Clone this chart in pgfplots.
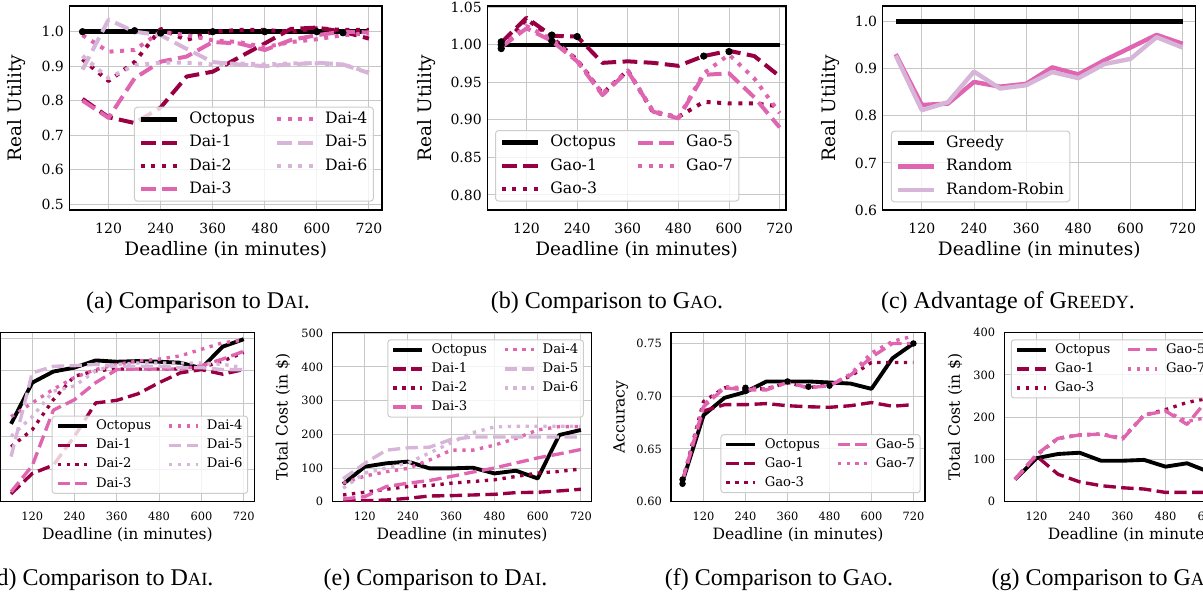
\documentclass[border=0pt]{standalone}
\usepackage{fontspec}
\setmainfont{DejaVu Serif}
\newfontfamily\capfont{Liberation Serif}
\usepackage{pgfplots}
\usepackage{pgfplotstable}
\pgfplotsset{compat=1.18}

\definecolor{c1}{HTML}{980043}
\definecolor{c2}{HTML}{DF65B0}
\definecolor{c3}{HTML}{D7B5D8}

% line styles, argument = scale factor of the row
\tikzset{
  oct/.style={black, line width=#1*2.3bp, solid, line join=round},
  oct/.default=1,
  sA/.style={c1, line width=#1*2bp, dash pattern=on #1*7.4bp off #1*3.2bp, line join=round},
  sA/.default=1,
  sB/.style={c1, line width=#1*2bp, dash pattern=on #1*2bp off #1*3.3bp, line join=round},
  sB/.default=1,
  sC/.style={c2, line width=#1*2bp, dash pattern=on #1*7.4bp off #1*3.2bp, line join=round},
  sC/.default=1,
  sD/.style={c2, line width=#1*2bp, dash pattern=on #1*2bp off #1*3.3bp, line join=round},
  sD/.default=1,
  sE/.style={c3, line width=#1*2bp, dash pattern=on #1*7.4bp off #1*3.2bp, line join=round},
  sE/.default=1,
  sF/.style={c3, line width=#1*2bp, dash pattern=on #1*2bp off #1*3.3bp, line join=round},
  sF/.default=1,
  sR/.style={c2, line width=#1*2.2bp, solid, line join=round},
  sR/.default=1,
  sRR/.style={c3, line width=#1*2.2bp, solid, line join=round},
  sRR/.default=1,
}

\pgfplotsset{
  dots/.style={only marks, mark=*, mark size=1.6bp, black, forget plot},
  base/.style={
    scale only axis, anchor=north west,
    xmin=27, xmax=753, xtick={120,240,360,480,600,720},
    grid=major, major grid style={line width=0.5bp, black!22},
    axis line style={line width=0.65bp},
    major tick length=0pt, scaled ticks=false,
    /pgf/number format/assume math mode=true,
    legend cell align=left,
    legend style={draw=black!20, line width=0.5bp, rounded corners=1.5bp,
      fill=white, fill opacity=0.8, draw opacity=1, text opacity=1},
    ylabel style={anchor=center},
  },
  toprow/.style={base, height=102bp,
    tick label style={font=\fontsize{7bp}{8bp}\selectfont},
    label style={font=\fontsize{9.25bp}{11bp}\selectfont},
    xticklabel style={anchor=base, yshift=-11.95bp, inner sep=0pt},
    yticklabel style={anchor=east, xshift=-2.6bp, inner sep=0pt},
    xlabel style={at={(axis description cs:0.5,-0.196)}, anchor=center},
    legend style={font=\fontsize{7.85bp}{9bp}\selectfont,
      inner xsep=2bp, inner ysep=2bp, row sep=3.65bp,
      nodes={inner xsep=1bp, inner ysep=0pt, text height=6.2bp, text depth=1.8bp},
      /tikz/every odd column/.append style={column sep=3.8bp},
      /tikz/every even column/.append style={column sep=9bp}},
    legend image code/.code={\draw[##1] (0bp,0bp) -- (18.3bp,0bp);},
  },
  botrow/.style={base, height=84.6bp,
    tick label style={font=\fontsize{5.7bp}{6.5bp}\selectfont},
    label style={font=\fontsize{7.8bp}{9bp}\selectfont},
    xticklabel style={anchor=base, yshift=-9.3bp, inner sep=0pt},
    yticklabel style={anchor=east, xshift=-4.4bp, inner sep=0pt},
    xlabel style={at={(axis description cs:0.5,-0.197)}, anchor=center},
    legend style={font=\fontsize{6.6bp}{7.5bp}\selectfont,
      inner xsep=1.8bp, inner ysep=1.7bp, row sep=2.95bp,
      nodes={inner xsep=0.8bp, inner ysep=0pt, text height=5.1bp, text depth=1.5bp},
      /tikz/every odd column/.append style={column sep=2.9bp},
      /tikz/every even column/.append style={column sep=7.2bp}},
    legend image code/.code={\draw[##1] (0bp,0bp) -- (14.5bp,0bp);},
  },
}

% (a) real utility vs Dai
\pgfplotstableread{
x   oct  d1    d2    d3    d4    d5    d6
60  1.0  0.805 0.920 0.800 0.990 0.890 0.930
120 1.0  0.752 0.857 0.750 0.942 1.035 0.865
180 1.0  0.735 0.912 0.865 0.947 1.000 0.903
240 1.0  0.780 1.008 0.913 1.000 0.990 0.910
300 1.0  0.870 0.976 0.928 0.990 0.950 0.910
360 1.0  0.884 1.000 0.970 0.975 0.912 0.905
420 1.0  0.925 1.005 0.966 0.970 0.905 0.908
480 1.0  0.966 1.005 0.947 0.955 0.900 0.905
540 1.0  1.008 1.000 0.976 0.970 0.905 0.908
600 1.0  1.012 1.010 0.990 0.978 0.910 0.908
660 1.0  1.000 1.005 1.000 0.990 0.905 0.905
720 1.0  0.980 1.005 0.998 0.995 0.880 0.882
}\ta

% (b) real utility vs Gao
\pgfplotstableread{
x   oct  g1    g3    g5    g7
60  1.0  1.003 0.997 0.997 0.998
120 1.0  1.036 1.034 1.022 1.025
180 1.0  1.012 1.010 1.005 1.007
240 1.0  1.011 0.980 0.978 0.980
300 1.0  0.976 0.935 0.933 0.935
360 1.0  0.978 0.966 0.965 0.966
420 1.0  0.976 0.910 0.911 0.912
480 1.0  0.972 0.904 0.902 0.903
540 1.0  0.985 0.924 0.960 0.962
600 1.0  0.992 0.922 0.962 0.987
660 1.0  0.985 0.922 0.930 0.955
720 1.0  0.958 0.918 0.890 0.909
}\tb

% (c) greedy vs random
\pgfplotstableread{
x   gr   ra    rr
60  1.0  0.931 0.928
120 1.0  0.823 0.812
180 1.0  0.826 0.829
240 1.0  0.872 0.894
300 1.0  0.862 0.858
360 1.0  0.868 0.865
420 1.0  0.903 0.893
480 1.0  0.888 0.880
540 1.0  0.918 0.910
600 1.0  0.945 0.921
660 1.0  0.972 0.967
720 1.0  0.953 0.945
}\tc

% (d) accuracy vs Dai
\pgfplotstableread{
x   oct    d1    d2    d3    d4    d5    d6
60  0.619  0.512 0.584 0.515 0.630 0.569 0.600
120 0.682  0.543 0.610 0.555 0.651 0.697 0.630
180 0.699  0.556 0.656 0.640 0.672 0.707 0.669
240 0.705  0.600 0.692 0.656 0.690 0.708 0.677
300 0.716  0.651 0.700 0.682 0.702 0.710 0.700
360 0.714  0.655 0.703 0.702 0.710 0.707 0.710
420 0.715  0.665 0.703 0.703 0.715 0.707 0.712
480 0.714  0.682 0.703 0.703 0.718 0.707 0.712
540 0.7125 0.697 0.703 0.703 0.723 0.705 0.712
600 0.704  0.702 0.705 0.708 0.733 0.705 0.712
660 0.737  0.695 0.715 0.718 0.743 0.702 0.710
720 0.7485 0.702 0.728 0.730 0.747 0.702 0.705
}\td

% (e) total cost vs Dai
\pgfplotstableread{
x   oct d1 d2 d3  d4  d5  d6
60  52  2  20 8   55  68  40
120 104 3  28 15  76  114 85
180 114 5  37 45  89  153 100
240 119 10 45 55  99  160 115
300 99  17 48 63  124 162 145
360 99  18 55 75  153 185 175
420 101 20 60 88  153 192 205
480 84  22 65 100 168 192 222
540 92  27 75 115 188 192 224
600 69  28 85 130 213 192 224
660 198 32 90 142 223 192 224
720 213 37 97 155 223 192 224
}\te

% (f) accuracy vs Gao
\pgfplotstableread{
x   oct    g1     g3    g5    g7
60  0.619  0.620  0.620 0.620 0.621
120 0.682  0.686  0.695 0.690 0.692
180 0.6985 0.692  0.708 0.708 0.709
240 0.704  0.692  0.707 0.706 0.708
300 0.714  0.693  0.707 0.706 0.707
360 0.714  0.691  0.713 0.713 0.713
420 0.714  0.690  0.708 0.708 0.708
480 0.713  0.6895 0.711 0.710 0.710
540 0.712  0.691  0.719 0.720 0.721
600 0.707  0.694  0.732 0.737 0.741
660 0.736  0.6905 0.732 0.750 0.752
720 0.750  0.692  0.732 0.750 0.757
}\tf

% (g) total cost vs Gao
\pgfplotstableread{
x   oct g1  g3  g5  g7
60  53  53  53  53  53
120 103 108 110 112 110
180 113 65  150 150 150
240 116 47  158 158 158
300 97  38  160 160 160
360 97  33  150 148 150
420 99  30  205 205 205
480 83  22  218 215 215
540 91  22  235 183 190
600 71  22  245 245 200
660 198 22  250 250 230
720 213 22  250 260 240
}\tg

\begin{document}
\begin{tikzpicture}
\useasboundingbox (0,0) rectangle (601.5bp,-298.5bp);
\begin{scope}
\clip (0,0) rectangle (601.5bp,-298.5bp);

% ---------------- (a)
\begin{axis}[toprow, at={(34.75bp,-3bp)}, width=156.25bp,
  xmin=30, xmax=750,
  ymin=0.4826, ymax=1.0746, ytick={0.5,0.6,0.7,0.8,0.9,1.0},
  y tick label style={/pgf/number format/fixed, /pgf/number format/fixed zerofill, /pgf/number format/precision=1},
  xlabel={Deadline (in minutes)}, ylabel={Real Utility},
  ylabel style={at={(axis description cs:-0.169,0.5)}},
  legend columns=2, legend style={at={(0.974,0.041)}, anchor=south east}]
\addplot[oct, forget plot] table[x=x, y=oct] {\ta};
\addplot[sA, forget plot] table[x=x, y=d1] {\ta};
\addplot[sB, forget plot] table[x=x, y=d2] {\ta};
\addplot[sC, forget plot] table[x=x, y=d3] {\ta};
\addplot[sD, forget plot] table[x=x, y=d4] {\ta};
\addplot[sE, forget plot] table[x=x, y=d5] {\ta};
\addplot[sF, forget plot] table[x=x, y=d6] {\ta};
\addplot[dots] coordinates {(60,1.0) (180,1.003) (240,0.996) (360,1.0) (480,1.0) (600,1.0) (660,0.997)};
\addlegendimage{oct}\addlegendentry{Octopus}
\addlegendimage{sD}\addlegendentry{Dai-4}
\addlegendimage{sA}\addlegendentry{Dai-1}
\addlegendimage{sE}\addlegendentry{Dai-5}
\addlegendimage{sB}\addlegendentry{Dai-2}
\addlegendimage{sF}\addlegendentry{Dai-6}
\addlegendimage{sC}\addlegendentry{Dai-3}
\end{axis}

% ---------------- (b)
\begin{axis}[toprow, at={(243.65bp,-3bp)}, width=149.35bp,
  xmin=27, xmax=735,
  ymin=0.78, ymax=1.0517, ytick={0.80,0.85,0.90,0.95,1.00,1.05},
  y tick label style={/pgf/number format/fixed, /pgf/number format/fixed zerofill, /pgf/number format/precision=2},
  xlabel={Deadline (in minutes)}, ylabel={Real Utility},
  ylabel style={at={(axis description cs:-0.203,0.5)}},
  legend columns=2, legend style={at={(0.026,0.041)}, anchor=south west}]
\addplot[oct, forget plot] table[x=x, y=oct] {\tb};
\addplot[sA, forget plot] table[x=x, y=g1] {\tb};
\addplot[sB, forget plot] table[x=x, y=g3] {\tb};
\addplot[sC, forget plot] table[x=x, y=g5] {\tb};
\addplot[sD, forget plot] table[x=x, y=g7] {\tb};
\addplot[dots] coordinates {(60,1.004) (60,1.0) (60,0.995) (180,1.013) (180,1.005) (240,1.011) (540,0.985) (600,0.991)};
\addlegendimage{oct}\addlegendentry{Octopus}
\addlegendimage{sC}\addlegendentry{Gao-5}
\addlegendimage{sA}\addlegendentry{Gao-1}
\addlegendimage{sD}\addlegendentry{Gao-7}
\addlegendimage{sB}\addlegendentry{Gao-3}
\end{axis}

% ---------------- (c)
\begin{axis}[toprow, at={(441.35bp,-3bp)}, width=156.5bp,
  xmin=30, xmax=750,
  ymin=0.6, ymax=1.0333, ytick={0.6,0.7,0.8,0.9,1.0},
  y tick label style={/pgf/number format/fixed, /pgf/number format/fixed zerofill, /pgf/number format/precision=1},
  xlabel={Deadline (in minutes)}, ylabel={Real Utility},
  ylabel style={at={(axis description cs:-0.168,0.5)}},
  legend columns=1, legend style={at={(0.026,0.038)}, anchor=south west}]
\addplot[oct] table[x=x, y=gr] {\tc};
\addlegendentry{Greedy}
\addplot[sR] table[x=x, y=ra] {\tc};
\addlegendentry{Random}
\addplot[sRR] table[x=x, y=rr] {\tc};
\addlegendentry{Random-Robin}
\end{axis}

% ---------------- (d)  (its y tick labels lie left of the picture)
\begin{axis}[botrow, at={(0.25bp,-166.25bp)}, width=126.9bp,
  xmin=30, xmax=750,
  ymin=0.5, ymax=0.7587, ytick={0.50,0.55,0.60,0.65,0.70,0.75},
  yticklabels={},
  xlabel={Deadline (in minutes)},
  legend columns=2, legend style={at={(0.976,0.046)}, anchor=south east}]
\addplot[oct=0.84, forget plot] table[x=x, y=oct] {\td};
\addplot[sA=0.84, forget plot] table[x=x, y=d1] {\td};
\addplot[sB=0.84, forget plot] table[x=x, y=d2] {\td};
\addplot[sC=0.84, forget plot] table[x=x, y=d3] {\td};
\addplot[sD=0.84, forget plot] table[x=x, y=d4] {\td};
\addplot[sE=0.84, forget plot] table[x=x, y=d5] {\td};
\addplot[sF=0.84, forget plot] table[x=x, y=d6] {\td};
\addlegendimage{oct=0.84}\addlegendentry{Octopus}
\addlegendimage{sD=0.84}\addlegendentry{Dai-4}
\addlegendimage{sA=0.84}\addlegendentry{Dai-1}
\addlegendimage{sE=0.84}\addlegendentry{Dai-5}
\addlegendimage{sB=0.84}\addlegendentry{Dai-2}
\addlegendimage{sF=0.84}\addlegendentry{Dai-6}
\addlegendimage{sC=0.84}\addlegendentry{Dai-3}
\end{axis}

% ---------------- (e)
\begin{axis}[botrow, at={(166.15bp,-166.25bp)}, width=129.7bp,
  xmin=30, xmax=750,
  ymin=0, ymax=502.4, ytick={0,100,200,300,400,500},
  xlabel={Deadline (in minutes)}, ylabel={Total Cost (in \$)},
  ylabel style={at={(axis description cs:-0.190,0.5)}},
  legend columns=2, legend style={at={(0.970,0.960)}, anchor=north east}]
\addplot[oct=0.84, forget plot] table[x=x, y=oct] {\te};
\addplot[sA=0.84, forget plot] table[x=x, y=d1] {\te};
\addplot[sB=0.84, forget plot] table[x=x, y=d2] {\te};
\addplot[sC=0.84, forget plot] table[x=x, y=d3] {\te};
\addplot[sD=0.84, forget plot] table[x=x, y=d4] {\te};
\addplot[sE=0.84, forget plot] table[x=x, y=d5] {\te};
\addplot[sF=0.84, forget plot] table[x=x, y=d6] {\te};
\addlegendimage{oct=0.84}\addlegendentry{Octopus}
\addlegendimage{sD=0.84}\addlegendentry{Dai-4}
\addlegendimage{sA=0.84}\addlegendentry{Dai-1}
\addlegendimage{sE=0.84}\addlegendentry{Dai-5}
\addlegendimage{sB=0.84}\addlegendentry{Dai-2}
\addlegendimage{sF=0.84}\addlegendentry{Dai-6}
\addlegendimage{sC=0.84}\addlegendentry{Dai-3}
\end{axis}

% ---------------- (f)
\begin{axis}[botrow, at={(335.5bp,-166.25bp)}, width=127bp,
  xmin=27, xmax=753,
  ymin=0.6, ymax=0.7604, ytick={0.60,0.65,0.70,0.75},
  y tick label style={/pgf/number format/fixed, /pgf/number format/fixed zerofill, /pgf/number format/precision=2},
  xlabel={Deadline (in minutes)}, ylabel={Accuracy},
  ylabel style={at={(axis description cs:-0.198,0.5)}},
  legend columns=2, legend style={at={(0.983,0.05)}, anchor=south east}]
\addplot[oct=0.84, forget plot] table[x=x, y=oct] {\tf};
\addplot[sA=0.84, forget plot] table[x=x, y=g1] {\tf};
\addplot[sB=0.84, forget plot] table[x=x, y=g3] {\tf};
\addplot[sC=0.84, forget plot] table[x=x, y=g5] {\tf};
\addplot[sD=0.84, forget plot] table[x=x, y=g7] {\tf};
\addplot[dots, mark size=1.4bp] coordinates {(60,0.617) (60,0.621) (240,0.705) (240,0.708) (360,0.714) (420,0.709) (480,0.710) (720,0.750)};
\addlegendimage{oct=0.84}\addlegendentry{Octopus}
\addlegendimage{sC=0.84}\addlegendentry{Gao-5}
\addlegendimage{sA=0.84}\addlegendentry{Gao-1}
\addlegendimage{sD=0.84}\addlegendentry{Gao-7}
\addlegendimage{sB=0.84}\addlegendentry{Gao-3}
\end{axis}

% ---------------- (g)
\begin{axis}[botrow, at={(502.15bp,-166.25bp)}, width=129bp,
  xmin=30, xmax=750,
  ymin=0, ymax=400.6, ytick={0,100,200,300,400},
  xlabel={Deadline (in minutes)}, ylabel={Total Cost (in \$)},
  ylabel style={at={(axis description cs:-0.191,0.5)}},
  legend columns=2, legend style={at={(0.025,0.960)}, anchor=north west}]
\addplot[oct=0.84, forget plot] table[x=x, y=oct] {\tg};
\addplot[sA=0.84, forget plot] table[x=x, y=g1] {\tg};
\addplot[sB=0.84, forget plot] table[x=x, y=g3] {\tg};
\addplot[sC=0.84, forget plot] table[x=x, y=g5] {\tg};
\addplot[sD=0.84, forget plot] table[x=x, y=g7] {\tg};
\addlegendimage{oct=0.84}\addlegendentry{Octopus}
\addlegendimage{sC=0.84}\addlegendentry{Gao-5}
\addlegendimage{sA=0.84}\addlegendentry{Gao-1}
\addlegendimage{sD=0.84}\addlegendentry{Gao-7}
\addlegendimage{sB=0.84}\addlegendentry{Gao-3}
\end{axis}

% ---------------- captions
\begin{scope}[every node/.style={anchor=base, inner sep=0pt, font=\capfont\fontsize{12bp}{14bp}\selectfont}]
\node at (99bp,-154bp) {(a) Comparison to D{\fontsize{9.3bp}{10bp}\selectfont AI}.};
\node at (303.5bp,-154bp) {(b) Comparison to G{\fontsize{9.3bp}{10bp}\selectfont AO}.};
\node at (504bp,-154bp) {(c) Advantage of G{\fontsize{9.3bp}{10bp}\selectfont REEDY}.};
\node at (50.5bp,-292.5bp) {(d) Comparison to D{\fontsize{9.3bp}{10bp}\selectfont AI}.};
\node at (217.75bp,-292.5bp) {(e) Comparison to D{\fontsize{9.3bp}{10bp}\selectfont AI}.};
\node at (389.5bp,-292.5bp) {(f) Comparison to G{\fontsize{9.3bp}{10bp}\selectfont AO}.};
\node at (553.85bp,-292.5bp) {(g) Comparison to G{\fontsize{9.3bp}{10bp}\selectfont AO}.};
\end{scope}

\end{scope}
\end{tikzpicture}
\end{document}
